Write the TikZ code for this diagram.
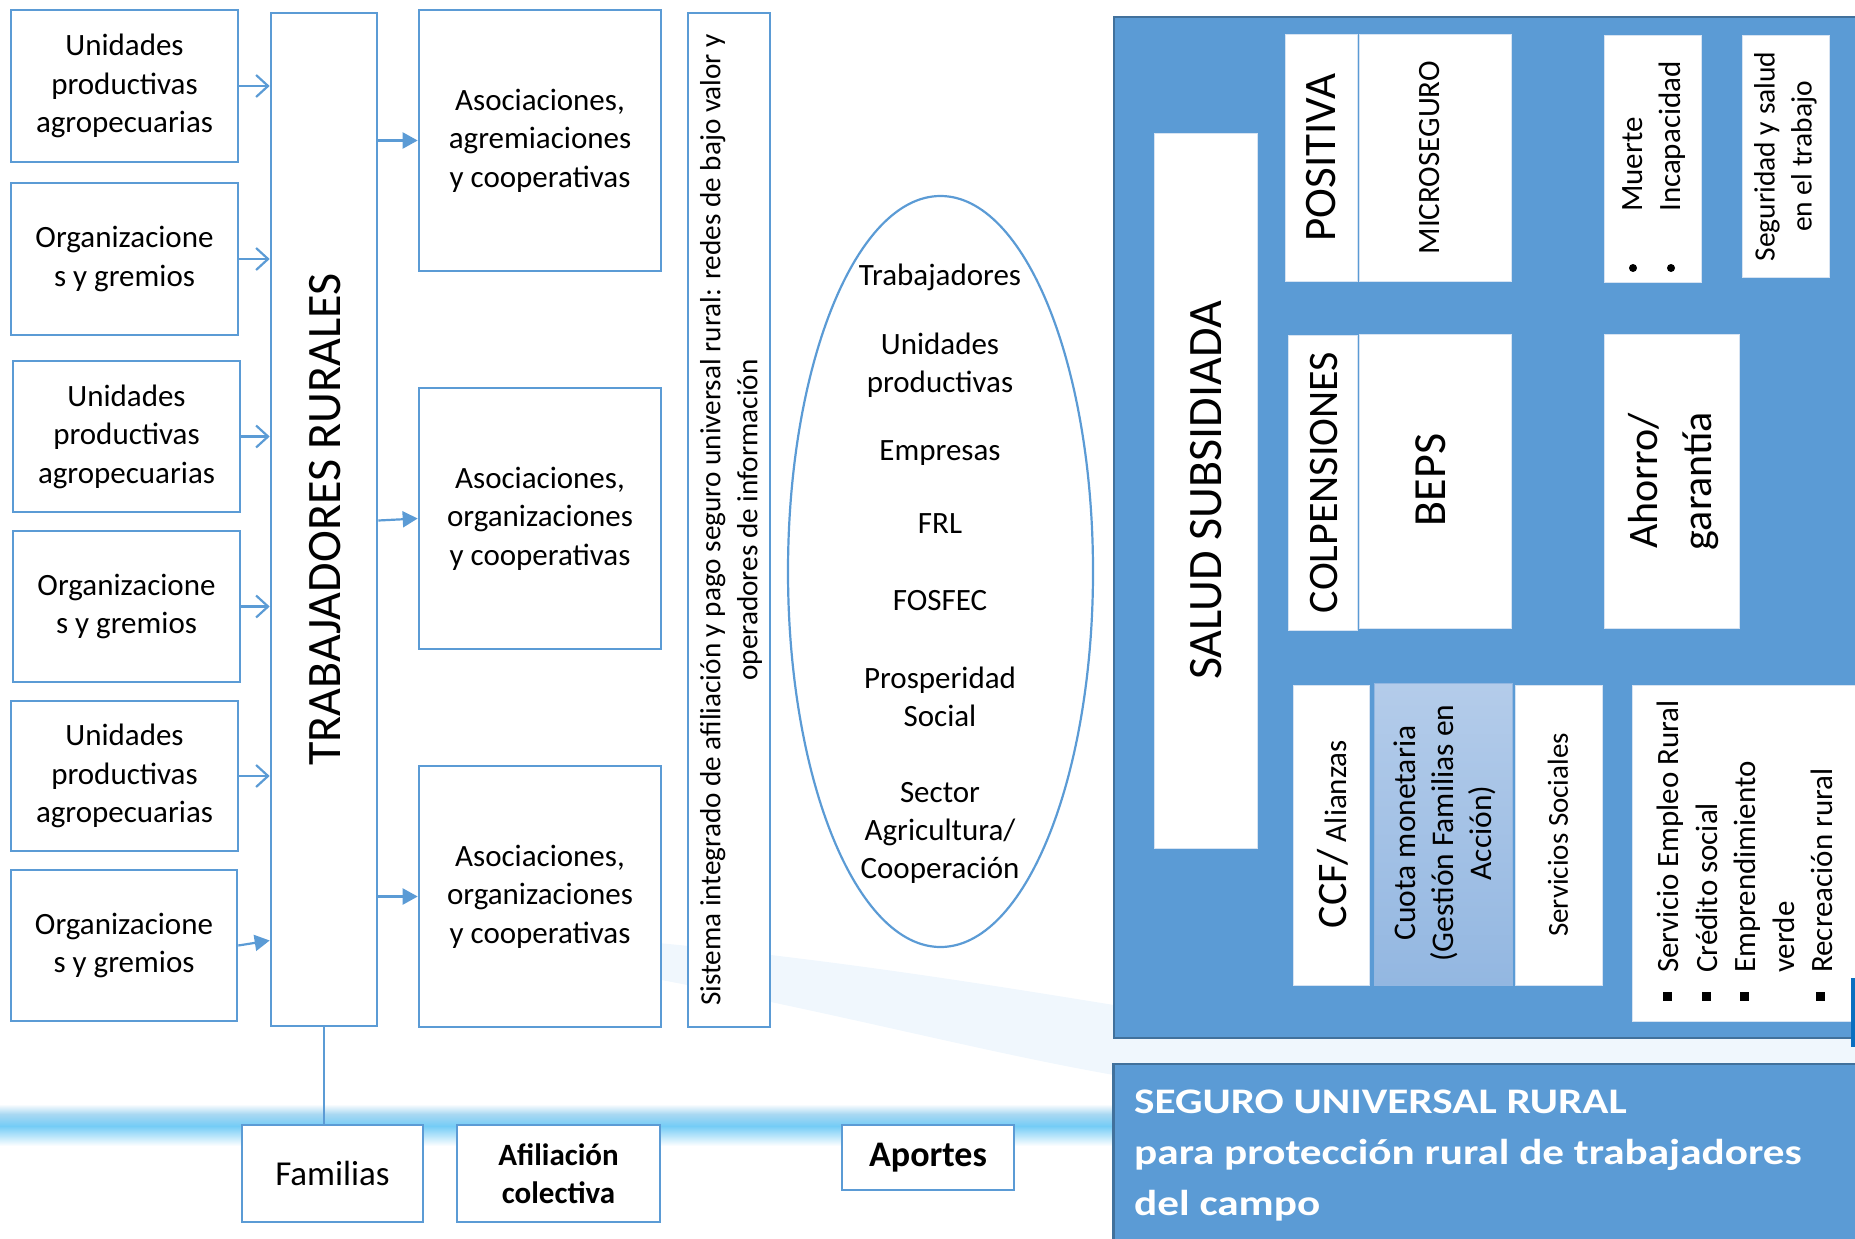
\documentclass[tikz,border=0pt]{standalone}
\usepackage{fontspec}
\setmainfont{Carlito}
\newfontfamily\titlefont{Carlito}[FakeStretch=1.2]
\usetikzlibrary{arrows.meta,shapes.geometric,fit}
\definecolor{bblue}{HTML}{5B9BD5}
\definecolor{pborder}{HTML}{41719C}
\definecolor{wborder}{HTML}{D6E3F2}
\definecolor{cuotatop}{HTML}{B4CCEA}
\definecolor{cuotabot}{HTML}{93B7E1}
\definecolor{bandmid}{HTML}{74CCF6}
\definecolor{bandtop}{HTML}{A9D8F2}
\definecolor{swoosh}{HTML}{F0F7FD}
\definecolor{darkbar}{HTML}{0A6FC0}
\newcommand\myfs[2]{\fontsize{#1}{#2}\selectfont}
\begin{document}
\begin{tikzpicture}[x=1pt,y=-1pt,
  lbox/.style={draw=bblue, line width=2.6pt, fill=white, inner sep=0pt},
  ltext/.style={align=center, inner sep=0pt, font=\myfs{31}{38.5}},
  wbox/.style={draw=wborder, line width=1pt, fill=white, inner sep=0pt},
  pbox/.style={fill=bblue, draw=pborder, line width=2.5pt, inner sep=0pt},
  rtext/.style={rotate=90, align=center, inner sep=0pt},
  etext/.style={align=center, inner sep=0pt, font=\myfs{31}{38}},
  openarrow/.style={draw=bblue, line width=2.2pt, -{Straight Barb[length=12pt,width=22pt,line width=2.2pt]}},
  fillarrow/.style={draw=bblue, line width=2.2pt, -{Triangle[length=15pt,width=16pt]}},
]
\useasboundingbox (0,0) rectangle (1855,1239);
% background decorations
\fill[swoosh] (560,935) .. controls (780,950) and (990,985) .. (1114,1005) -- (1114,1075) .. controls (960,1048) and (790,1000) .. (560,962) -- cycle;
\fill[swoosh] (1114,1036) rectangle (1855,1066);
\shade[top color=white, bottom color=bandtop] (0,1104) rectangle (1114,1114);
\shade[top color=bandtop, bottom color=bandmid] (0,1114) rectangle (1114,1126);
\shade[top color=bandmid, bottom color=white] (0,1126) rectangle (1114,1146);

% left column
\node[lbox, fit={(11,10)(238,162)}] (u1) {};
\node[ltext] (u1T) at (u1.center) {Unidades\\productivas\\agropecuarias};
\node[lbox, fit={(11,183)(238,335)}] (o1) {};
\node[ltext] (o1T) at (o1.center) {Organizacione\\s y gremios};
\node[lbox, fit={(13,361)(240,512)}] (u2) {};
\node[ltext] (u2T) at (u2.center) {Unidades\\productivas\\agropecuarias};
\node[lbox, fit={(13,531)(240,682)}] (o2) {};
\node[ltext] (o2T) at (o2.center) {Organizacione\\s y gremios};
\node[lbox, fit={(11,701)(238,851)}] (u3) {};
\node[ltext] (u3T) at (u3.center) {Unidades\\productivas\\agropecuarias};
\node[lbox, fit={(11,870)(237,1021)}] (o3) {};
\node[ltext] (o3T) at (o3.center) {Organizacione\\s y gremios};

\node[lbox, fit={(271,13)(377,1026)}] (trab) {};
\node[rtext, font=\myfs{48}{58}] (trabT) at ([xshift=1pt]trab.center) {TRABAJADORES RURALES};

\node[lbox, fit={(419,10)(661,271)}] (as1) {};
\node[ltext] (as1T) at (as1.center) {Asociaciones,\\agremiaciones\\y cooperativas};
\node[lbox, fit={(419,388)(661,649)}] (as2) {};
\node[ltext] (as2T) at (as2.center) {Asociaciones,\\organizaciones\\y cooperativas};
\node[lbox, fit={(419,766)(661,1027)}] (as3) {};
\node[ltext] (as3T) at (as3.center) {Asociaciones,\\organizaciones\\y cooperativas};

\node[lbox, fit={(688,13)(770,1027)}] (sis) {};
\node[rtext, font=\myfs{29.2}{37}] (sisT) at ([xshift=2pt]sis.center) {Sistema integrado de afiliación y pago seguro universal rural: redes de bajo valor y\\operadores de información};

% ellipse
\node[draw=bblue, line width=2.2pt, ellipse, minimum width=305pt, minimum height=751pt, inner sep=0pt] (ell) at (940.5,571.5) {};
\node[etext] (e1) at (940,277) {Trabajadores};
\node[etext] (e2) at (940,365.5) {Unidades\\productivas};
\node[etext] (e3) at (940,453) {Empresas};
\node[etext] (e4) at (940,524) {FRL};
\node[etext] (e5) at (940,601) {FOSFEC};
\node[etext] (e6) at (940,697) {Prosperidad\\Social};
\node[etext] (e7) at (940,832.5) {Sector\\Agricultura/\\Cooperación};

% bottom boxes
\node[lbox, fit={(242,1125)(423,1222)}] (fam) {};
\node[ltext, font=\myfs{35}{40}] (famT) at (fam.center) {Familias};
\node[lbox, fit={(457,1125)(660,1222)}] (afil) {};
\node[ltext, font=\bfseries\myfs{31}{38}] (afilT) at (afil.center) {Afiliación\\colectiva};
\node[lbox, fit={(842,1125)(1014,1190)}] (apor) {};
\node[ltext, font=\bfseries\myfs{36}{42}] (aporT) at (apor.center) {Aportes};

% connectors
\draw[openarrow] (u1.east) -- (u1.east -| trab.west);
\draw[openarrow] (o1.east) -- (o1.east -| trab.west);
\draw[openarrow] (u2.east) -- (u2.east -| trab.west);
\draw[openarrow] (o2.east) -- (o2.east -| trab.west);
\draw[openarrow] (u3.east) -- (u3.east -| trab.west);
\draw[fillarrow] (o3.east) -- ([yshift=5pt]o3.east -| trab.west);
\draw[fillarrow] (as1.west -| trab.east) -- (as1.west);
\draw[fillarrow] ([yshift=-2pt]as2.west -| trab.east) -- (as2.west);
\draw[fillarrow] (as3.west -| trab.east) -- (as3.west);
\draw[draw=bblue, line width=1.2pt] (trab.south) -- (trab.south |- fam.north);

% right panel
\node[pbox, fit={(1114,17)(1880,1038)}] (panel) {};
\node[pbox, fit={(1113.5,1064)(1880,1260)}] (titlebox) {};
\node[anchor=west, align=left, text=white, inner sep=0pt, font=\titlefont\bfseries\myfs{36}{51}] (titleT) at (1134,1156) {SEGURO UNIVERSAL RURAL\\para protección rural de trabajadores\\del campo};

\node[wbox, fit={(1154,133)(1257,848)}] (salud) {};
\node[rtext, font=\myfs{48}{58}] (saludT) at ([xshift=1pt]salud.center) {SALUD SUBSIDIADA};

\node[wbox, fit={(1285,34.5)(1357,281)}] (posit) {};
\node[rtext, font=\myfs{45}{54}] (positT) at (posit.center) {POSITIVA};
\node[wbox, fit={(1359,34.5)(1511,281)}] (micro) {};
\node[rtext, font=\myfs{31}{38}] (microT) at ([xshift=-5pt]micro.center) {MICROSEGURO};

\node[wbox, fit={(1604,36)(1701,282)}] (muerte) {};
\node[rotate=90, anchor=west, align=left, inner sep=0pt, font=\myfs{31}{38}] (muerteT) at (1654,212) {Muerte\\Incapacidad};
\node[circle, fill=black, inner sep=0pt, minimum size=8pt] (bul1) at (1633,268) {};
\node[circle, fill=black, inner sep=0pt, minimum size=8pt] (bul2) at (1671,268) {};

\node[wbox, fit={(1742,36)(1829,277)}] (segur) {};
\node[rtext, font=\myfs{29.5}{37}] (segurT) at (segur.center) {Seguridad y salud\\en el trabajo};

\node[wbox, fit={(1288,335)(1357,630)}] (colp) {};
\node[rtext, font=\myfs{42}{50}] (colpT) at ([xshift=1pt]colp.center) {COLPENSIONES};
\node[wbox, fit={(1359,334)(1511,628)}] (beps) {};
\node[rtext, font=\myfs{46}{54}] (bepsT) at (1431,480) {BEPS};
\node[wbox, fit={(1604,334)(1739.5,628)}] (ahorro) {};
\node[rtext, font=\myfs{42}{54}] (ahorroT) at (1674,481) {Ahorro/\\garantía};

\node[wbox, fit={(1293,685)(1369,985)}] (ccf) {};
\node[rtext, font=\myfs{31}{38}] (ccfT) at (1333,834) {{\myfs{42}{50}CCF/} Alianzas};
\node[draw=cuotabot, line width=1pt, top color=cuotatop, bottom color=cuotabot, inner sep=0pt, fit={(1374,683)(1512,985)}] (cuota) {};
\node[rtext, font=\myfs{31.5}{38}] (cuotaT) at (1445,833) {Cuota monetaria\\(Gestión Familias en\\Acción)};
\node[wbox, fit={(1515,685)(1602,985)}] (serv) {};
\node[rtext, font=\myfs{29}{36}] (servT) at (1558,835) {Servicios Sociales};

\node[wbox, fit={(1632,685)(1880,1021)}] (lista) {};
\node[rotate=90, anchor=west, align=left, inner sep=0pt, font=\myfs{31}{38.5}] (listaT) at (1745,973) {Servicio Empleo Rural\\Crédito social\\Emprendimiento\\verde\\Recreación rural};
\node[fill=black, inner sep=0pt, minimum size=9pt] (sq1) at (1667,996) {};
\node[fill=black, inner sep=0pt, minimum size=9pt] (sq2) at (1706,996) {};
\node[fill=black, inner sep=0pt, minimum size=9pt] (sq3) at (1744,996) {};
\node[fill=black, inner sep=0pt, minimum size=9pt] (sq4) at (1820,996) {};

\node[fill=darkbar, inner sep=0pt, fit={(1851,978)(1858,1047)}] (bar) {};
\end{tikzpicture}
\end{document}
